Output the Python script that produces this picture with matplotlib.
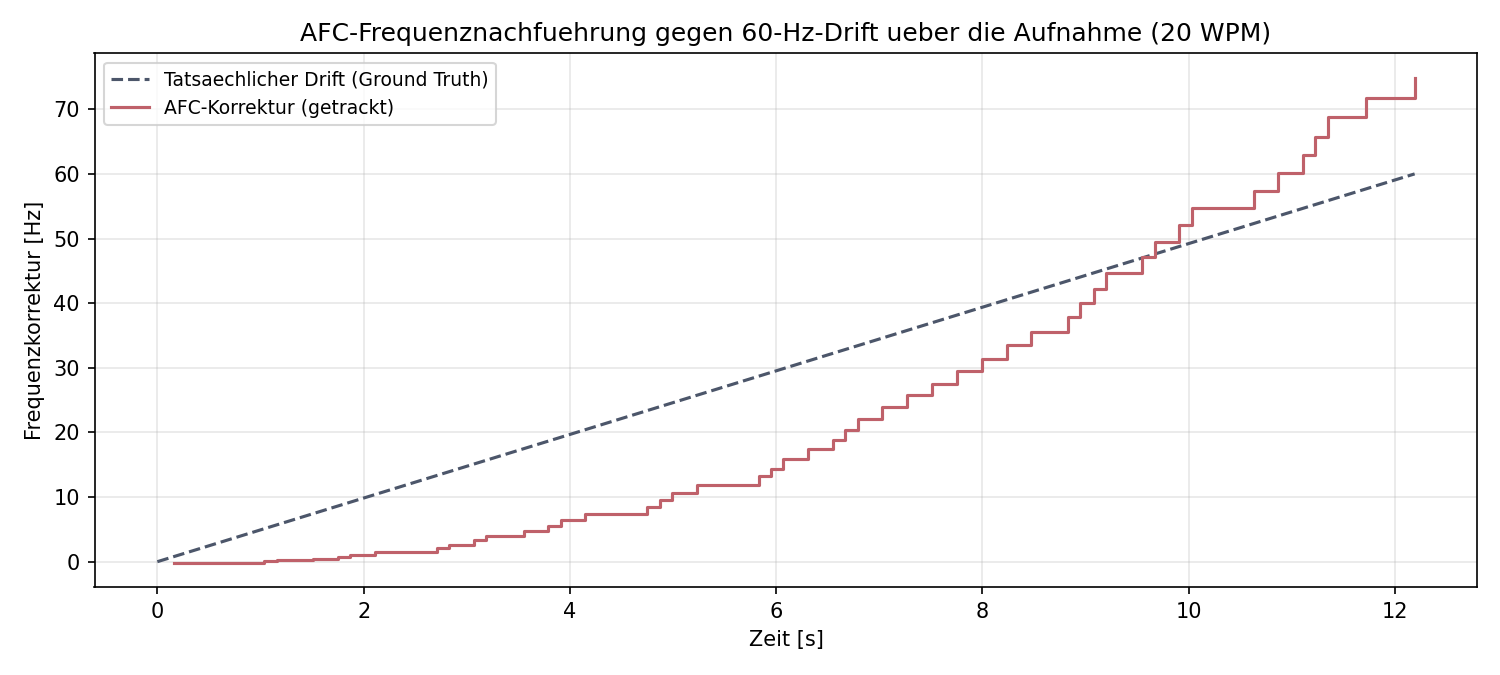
import matplotlib
matplotlib.use("Agg")
import matplotlib.pyplot as plt

# ground truth drift (linear)
drift_t = [0.0, 12.19]
drift_hz = [0.0, 60.0]

# AFC tracked correction, step changes (time, value after step)
afc_t = [0.16, 1.03, 1.16, 1.51, 1.75, 1.87, 2.11, 2.71, 2.83, 3.07, 3.19,
         3.55, 3.79, 3.91, 4.15, 4.75, 4.87, 4.99, 5.23, 5.83, 5.95, 6.07,
         6.31, 6.55, 6.67, 6.79, 7.03, 7.27, 7.51, 7.75, 8.0, 8.24, 8.47,
         8.83, 8.95, 9.08, 9.2, 9.55, 9.67, 9.91, 10.03, 10.63, 10.87, 11.11,
         11.22, 11.35, 11.72, 12.19]
afc_hz = [-0.2, 0.05, 0.2, 0.46, 0.72, 1.03, 1.54, 2.1, 2.57, 3.29, 3.9,
          4.78, 5.55, 6.47, 7.4, 8.5, 9.56, 10.6, 11.87, 13.26, 14.4, 15.88,
          17.42, 18.9, 20.45, 22.15, 23.95, 25.75, 27.55, 29.45, 31.4, 33.45, 35.6,
          37.8, 40.0, 42.2, 44.6, 47.1, 49.5, 52.1, 54.7, 57.4, 60.1, 62.9,
          65.7, 68.8, 71.7, 74.9]

fig, ax = plt.subplots(figsize=(10, 4.5), dpi=150)
fig.subplots_adjust(left=0.063, right=0.985, top=0.921, bottom=0.130)

ax.plot(drift_t, drift_hz, "--", color="#4C566A", lw=1.5,
        label="Tatsaechlicher Drift (Ground Truth)")
ax.step(afc_t, afc_hz, where="post", color="#BF616A", lw=1.5,
        label="AFC-Korrektur (getrackt)")

ax.set_title("AFC-Frequenznachfuehrung gegen 60-Hz-Drift ueber die Aufnahme (20 WPM)")
ax.set_xlabel("Zeit [s]")
ax.set_ylabel("Frequenzkorrektur [Hz]")
ax.grid(True, alpha=0.3)
ax.legend(loc="upper left", fontsize=9)

fig.savefig("out.png")
